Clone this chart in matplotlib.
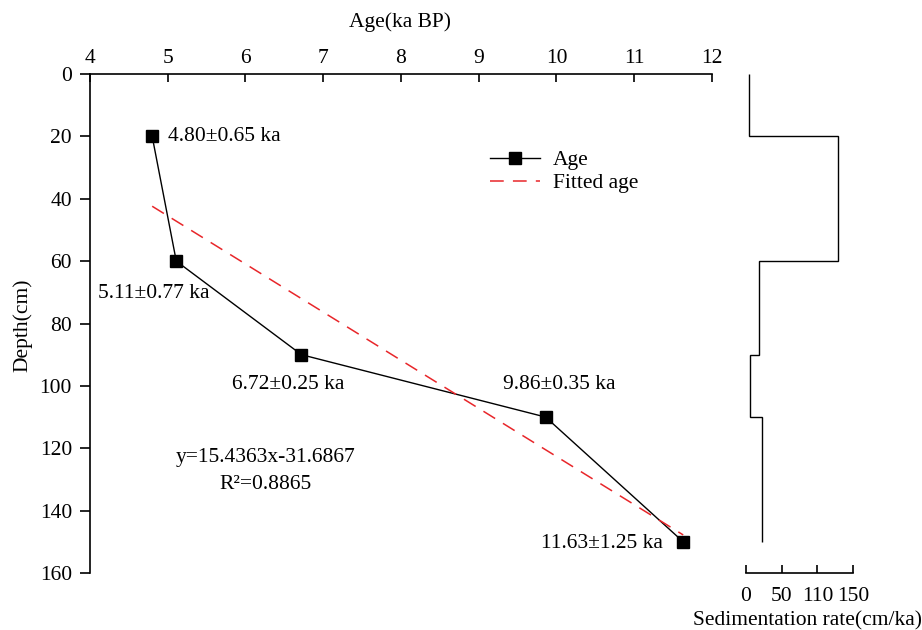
import matplotlib
matplotlib.use("Agg")
import matplotlib.pyplot as plt

plt.rcParams['font.family'] = ['Liberation Serif', 'DejaVu Serif']
plt.rcParams['font.size'] = 15.5

# dated samples
age = [4.80, 5.11, 6.72, 9.86, 11.63]
depth = [20, 60, 90, 110, 150]
age_labels = ['4.80±0.65 ka', '5.11±0.77 ka', '6.72±0.25 ka',
              '9.86±0.35 ka', '11.63±1.25 ka']

# fitted line end points (y=15.4363x-31.6867)
fit_age = [4.80, 11.63]
fit_depth = [42.4, 147.8]

# sedimentation rate per depth interval
rate_edges = [0, 20, 60, 90, 110, 150]
rates = [4.2, 129, 18.6, 6.4, 22.6]
rate_ticks = [0, 50, 100, 150]
rate_ticklabels = ['0', '50', '110', '150']

fig = plt.figure(figsize=(9.22, 6.30), dpi=100)
ax = fig.add_axes([0.0976, 0.0905, 0.6746, 0.792])
ax2 = fig.add_axes([0.809, 0.0905, 0.1163, 0.792])

# main age-depth plot
ax.plot(age, depth, color='black', lw=1, marker='s', ms=8, label='Age')
ax.plot(fit_age, fit_depth, color='#e8262a', lw=1.1, ls=(0, (9, 6)),
        label='Fitted age')
ax.set_xlim(4, 12)
ax.set_ylim(160, 0)
ax.xaxis.tick_top()
ax.set_xticks(range(4, 13))
ax.set_yticks(range(0, 161, 20))
ax.tick_params(axis='x', direction='in', length=6, width=1.2, pad=4)
ax.tick_params(axis='y', direction='out', length=7, width=1.2, pad=6)
for s in ['right', 'bottom']:
    ax.spines[s].set_visible(False)
for s in ['left', 'top']:
    ax.spines[s].set_linewidth(1.2)

# sample labels
ax.text(5.00, 20, age_labels[0], ha='left', va='center')
ax.text(4.10, 70.5, age_labels[1], ha='left', va='center')
ax.text(5.83, 99.7, age_labels[2], ha='left', va='center')
ax.text(9.31, 99.7, age_labels[3], ha='left', va='center')
ax.text(11.37, 150.6, age_labels[4], ha='right', va='center')
ax.text(6.26, 123, 'y=15.4363x-31.6867', ha='center', va='center')
ax.text(6.26, 131.7, 'R²=0.8865', ha='center', va='center')

ax.legend(loc='upper left', bbox_to_anchor=(0.63, 0.865), frameon=False,
          handlelength=2.3, handletextpad=0.6, borderaxespad=0,
          labelspacing=0.15)

# sedimentation rate panel
ax2.stairs(rates, rate_edges, orientation='horizontal', baseline=None,
           color='black', lw=1)
ax2.set_xlim(0, 150)
ax2.set_ylim(160, 0)
ax2.set_xticks(rate_ticks)
ax2.set_xticklabels(rate_ticklabels)
ax2.set_yticks([])
ax2.tick_params(axis='x', direction='in', length=6, width=1.2, pad=10)
for s in ['left', 'right', 'top']:
    ax2.spines[s].set_visible(False)
ax2.spines['bottom'].set_linewidth(1.2)

fig.text(0.434, 0.965, 'Age(ka BP)', ha='center', va='center')
fig.text(0.024, 0.484, 'Depth(cm)', ha='center', va='center', rotation=90)
fig.text(0.876, 0.014, 'Sedimentation rate(cm/ka)', ha='center', va='center')

fig.savefig('out.png', dpi=100)
